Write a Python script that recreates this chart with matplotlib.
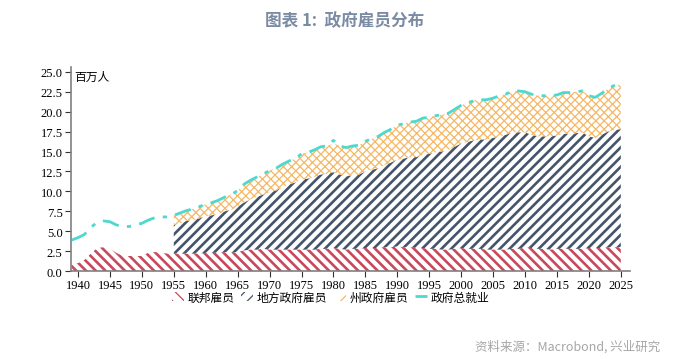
import numpy as np
import matplotlib
matplotlib.use("Agg")
import matplotlib.pyplot as plt
from matplotlib.patches import Patch
from matplotlib.lines import Line2D

plt.rcParams['font.family'] = ['Noto Sans CJK SC', 'DejaVu Sans']

# data (million persons), annual
years = list(range(1939, 2026))
years_sl = list(range(1955, 2026))

federal = [0.9, 1.0, 1.4, 2.2, 2.9, 3.0, 2.8, 2.3, 1.9, 1.9, 1.9,          # 1939-49
           1.9, 2.3, 2.4, 2.3, 2.2, 2.2, 2.2, 2.2, 2.2, 2.2,                # 1950-59
           2.3, 2.3, 2.3, 2.4, 2.3, 2.4, 2.6, 2.7, 2.7, 2.8,                # 1960-69
           2.7, 2.7, 2.7, 2.7, 2.7, 2.7, 2.7, 2.7, 2.8, 2.8,                # 1970-79
           2.9, 2.8, 2.7, 2.8, 2.8, 2.9, 2.9, 2.9, 3.0, 3.0,                # 1980-89
           3.1, 3.0, 3.0, 2.9, 2.9, 2.8, 2.8, 2.7, 2.7, 2.8,                # 1990-99
           2.9, 2.8, 2.8, 2.8, 2.7, 2.7, 2.7, 2.7, 2.8, 2.8,                # 2000-09
           3.0, 2.9, 2.8, 2.8, 2.7, 2.8, 2.8, 2.8, 2.8, 2.8,                # 2010-19
           2.9, 2.9, 2.9, 3.0, 3.0, 3.0]                                    # 2020-25

local = [3.6, 3.8, 4.1, 4.2, 4.4,
         4.6, 4.7, 4.9, 5.1, 5.4, 5.7, 6.0, 6.3, 6.6, 6.8,
         7.2, 7.4, 7.8, 8.2, 8.4, 8.8, 8.9, 9.1, 9.3, 9.4,
         9.5, 9.3, 9.2, 9.2, 9.3, 9.6, 9.8, 10.0, 10.3, 10.6,
         10.9, 11.1, 11.3, 11.4, 11.7, 11.9, 12.1, 12.3, 12.5, 12.8,
         13.1, 13.4, 13.6, 13.7, 13.8, 14.0, 14.2, 14.4, 14.6, 14.6,
         14.4, 14.2, 14.1, 14.1, 14.2, 14.2, 14.4, 14.4, 14.5, 14.6,
         14.0, 13.8, 14.2, 14.5, 14.7, 14.8]

state = [1.2, 1.3, 1.3, 1.4, 1.5,
         1.5, 1.6, 1.7, 1.8, 1.9, 2.0, 2.3, 2.4, 2.5, 2.6,
         2.7, 2.8, 2.9, 2.9, 3.0, 3.2, 3.3, 3.4, 3.5, 3.5,
         3.6, 3.6, 3.6, 3.7, 3.7, 3.8, 3.9, 4.0, 4.1, 4.2,
         4.3, 4.4, 4.4, 4.5, 4.6, 4.6, 4.6, 4.6, 4.6, 4.7,
         4.8, 4.9, 5.0, 5.0, 5.0, 5.0, 5.1, 5.1, 5.2, 5.2,
         5.1, 5.1, 5.1, 5.1, 5.1, 5.1, 5.2, 5.2, 5.2, 5.2,
         5.1, 5.1, 5.2, 5.4, 5.6, 5.6]

total = [3.9, 4.2, 4.6, 5.5, 6.1, 6.3, 6.2, 5.8, 5.6, 5.6, 5.8,
         6.0, 6.4, 6.7, 6.8, 6.8, 7.0, 7.3, 7.6, 7.8, 8.1,
         8.4, 8.6, 8.9, 9.3, 9.6, 10.1, 10.9, 11.4, 11.8, 12.2,
         12.6, 12.9, 13.4, 13.8, 14.1, 14.7, 14.9, 15.2, 15.6, 15.7,
         16.4, 15.7, 15.5, 15.7, 15.8, 16.3, 16.6, 16.9, 17.4, 17.8,
         18.3, 18.5, 18.7, 18.8, 19.2, 19.3, 19.5, 19.6, 19.8, 20.3,
         20.8, 21.1, 21.4, 21.5, 21.5, 21.7, 22.0, 22.2, 22.6, 22.6,
         22.5, 22.2, 22.0, 22.0, 22.0, 22.1, 22.4, 22.4, 22.5, 22.6,
         22.0, 21.8, 22.3, 22.9, 23.3, 23.5]

labels = ['联邦雇员', '地方政府雇员', '州政府雇员', '政府总就业']
c_fed = '#c9485b'
c_loc = '#44546a'
c_sta = '#f6b865'
c_tot = '#4dd9cf'

# higher dpi so hatch spacing can be tuned; S converts 100-dpi sizes
DPI = 175
S = 100 / DPI

fig = plt.figure(figsize=(6.89 * S, 3.6 * S), dpi=DPI)
ax = fig.add_axes([0.103, 0.244, 0.811, 0.567])

yrs = np.array(years)
fed = np.array(federal)
fed_sl = fed[yrs >= 1955]
loc_top = fed_sl + np.array(local)
sta_top = loc_top + np.array(state)

plt.rcParams['hatch.linewidth'] = 1.9 * S
ax.fill_between(years, 0, fed, facecolor='none', edgecolor=c_fed,
                hatch='\\' * 6, linewidth=0)
ax.fill_between(years_sl, fed_sl, loc_top, facecolor='none', edgecolor=c_loc,
                hatch='/' * 6, linewidth=0)
plt.rcParams['hatch.linewidth'] = 0.9 * S
ax.fill_between(years_sl, loc_top, sta_top, facecolor='none', edgecolor=c_sta,
                hatch='x' * 7, linewidth=0)
ax.plot(years, total, color=c_tot, lw=2 * S, dashes=[6, 3, 1.5, 3])

ax.set_xlim(1938.9, 2026.4)
ax.set_ylim(0, 25.6)
ax.set_xticks(range(1940, 2026, 5))
ax.set_yticks(np.arange(0, 25.1, 2.5))
ax.set_yticklabels([f'{v:.1f}' for v in np.arange(0, 25.1, 2.5)])
for lab in ax.get_xticklabels() + ax.get_yticklabels():
    lab.set_fontfamily('Liberation Serif')
    lab.set_fontsize(9 * S)
ax.tick_params(direction='out', length=4 * S, width=0.8 * S, color='#333333',
               pad=2 * S)
for s in ['top', 'right']:
    ax.spines[s].set_visible(False)
for s in ['left', 'bottom']:
    ax.spines[s].set_color('#808080')
    ax.spines[s].set_linewidth(1.2 * S)

ax.text(0.005, 0.985, '百万人', transform=ax.transAxes, fontsize=8.5 * S,
        ha='left', va='top')

handles = [Patch(facecolor='none', edgecolor=c_fed, hatch='\\' * 5, linewidth=0),
           Patch(facecolor='none', edgecolor=c_loc, hatch='/' * 5, linewidth=0),
           Patch(facecolor='none', edgecolor=c_sta, hatch='x', linewidth=0),
           Line2D([], [], color=c_tot, lw=2 * S, dashes=[6, 3, 1.5, 3])]
fig.legend(handles, labels, loc='center', bbox_to_anchor=(0.48, 0.172), ncol=4,
           frameon=False, fontsize=8.5 * S, handlelength=1.0, handletextpad=0.3,
           columnspacing=0.6)

fig.text(0.5, 0.94, '图表 1:  政府雇员分布', ha='center', va='center',
         fontsize=12 * S, fontweight='bold', color='#7b8ba3')
fig.text(0.958, 0.035, '资料来源：Macrobond, 兴业研究', ha='right', va='center',
         fontsize=9 * S, color='#a6a6a6')

fig.savefig('out.png', dpi=DPI)
